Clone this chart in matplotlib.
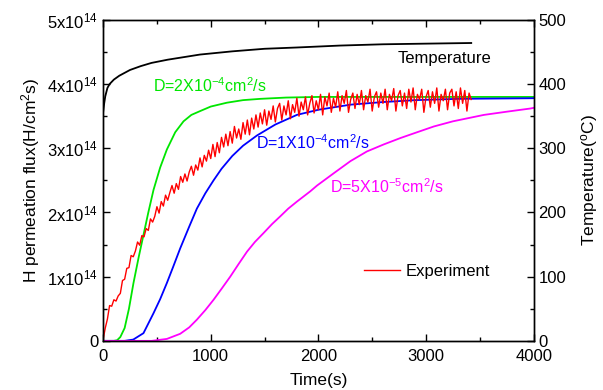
import matplotlib
matplotlib.use("Agg")
import matplotlib.pyplot as plt
from matplotlib.ticker import MultipleLocator, FuncFormatter

plt.rcParams['font.family'] = ['Liberation Sans', 'DejaVu Sans']
plt.rcParams['mathtext.fontset'] = 'custom'
plt.rcParams['mathtext.rm'] = 'Liberation Sans'
plt.rcParams['mathtext.it'] = 'Liberation Sans'
plt.rcParams['mathtext.default'] = 'regular'

# ---- data (flux in units of 1e14 H/cm^2 s, time in s, temperature in C) ----
temp_t = [0, 10, 20, 40, 60, 100, 150, 250, 350, 450, 600, 750, 900, 1200, 1500, 1800, 2200, 2600, 3000, 3420]
temp_v = [356, 370, 381, 394, 400, 407, 413, 422, 428, 433, 438, 442, 446, 451, 455, 457, 460, 462, 463, 464]

green_t = [0, 100, 130, 160, 200, 240, 282, 330, 375, 420, 468, 530, 592, 670, 747, 820,
           902, 1000, 1150, 1300, 1460, 1700, 2000, 3000, 4000]
green_v = [0, 0, 0.01, 0.06, 0.2, 0.5, 0.9, 1.3, 1.65, 2.0, 2.35, 2.7, 2.98, 3.25, 3.42, 3.52,
           3.58, 3.65, 3.71, 3.75, 3.77, 3.79, 3.80, 3.80, 3.80]

blue_t = [0, 200, 280, 375, 468, 530, 592, 650, 716, 800, 871, 950, 1026, 1100, 1200, 1300,
          1430, 1600, 1800, 2000, 2300, 2600, 2900, 3300, 4000]
blue_v = [0, 0, 0.02, 0.12, 0.43, 0.65, 0.90, 1.15, 1.44, 1.78, 2.06, 2.30, 2.50, 2.68, 2.88, 3.04,
          3.20, 3.37, 3.52, 3.60, 3.68, 3.72, 3.75, 3.77, 3.78]

mag_t = [0, 450, 592, 716, 800, 871, 950, 1026, 1100, 1181, 1260, 1337, 1410, 1491, 1570, 1646,
         1720, 1801, 1925, 1988, 2150, 2298, 2450, 2607, 2763, 2900, 3073, 3250, 3538, 3750, 3972, 4000]
mag_v = [0, 0, 0.03, 0.11, 0.21, 0.33, 0.48, 0.64, 0.81, 1.00, 1.20, 1.39, 1.54, 1.68, 1.82, 1.94,
         2.06, 2.17, 2.33, 2.42, 2.62, 2.80, 2.95, 3.06, 3.16, 3.24, 3.34, 3.42, 3.52, 3.57, 3.62, 3.63]

exp_t = list(range(0, 3440, 20))
exp_v = [0.02, 0.20, 0.34, 0.55, 0.54, 0.64, 0.62, 0.70, 0.74, 0.94, 0.96, 1.13, 1.14, 1.33, 1.31, 1.40,
         1.54, 1.49, 1.64, 1.62, 1.75, 1.72, 1.90, 1.85, 1.94, 2.09, 1.99, 2.17, 2.10, 2.27, 2.19, 2.31,
         2.42, 2.30, 2.45, 2.36, 2.56, 2.47, 2.60, 2.49, 2.63, 2.72, 2.58, 2.74, 2.66, 2.85, 2.71, 2.89,
         2.80, 2.97, 2.84, 3.06, 2.87, 3.09, 2.93, 3.17, 3.02, 3.22, 3.04, 3.26, 3.08, 3.34, 3.16, 3.30,
         3.14, 3.40, 3.22, 3.44, 3.21, 3.47, 3.30, 3.52, 3.33, 3.55, 3.38, 3.60, 3.36, 3.58, 3.45, 3.66,
         3.41, 3.62, 3.70, 3.44, 3.66, 3.52, 3.74, 3.46, 3.68, 3.56, 3.78, 3.50, 3.72, 3.60, 3.80, 3.52,
         3.70, 3.82, 3.55, 3.74, 3.60, 3.84, 3.52, 3.80, 3.66, 3.86, 3.56, 3.78, 3.64, 3.88, 3.58, 3.82,
         3.70, 3.90, 3.56, 3.76, 3.86, 3.62, 3.84, 3.68, 3.90, 3.60, 3.82, 3.72, 3.92, 3.58, 3.80, 3.88,
         3.64, 3.86, 3.70, 3.92, 3.60, 3.84, 3.74, 3.93, 3.58, 3.82, 3.90, 3.66, 3.86, 3.62, 3.92, 3.72,
         3.94, 3.60, 3.84, 3.76, 3.92, 3.56, 3.80, 3.90, 3.64, 3.88, 3.70, 3.94, 3.58, 3.84, 3.74, 3.92,
         3.60, 3.86, 3.92, 3.66, 3.88, 3.62, 3.94, 3.70, 3.90, 3.58, 3.86, 3.76]

labels_d = [r"D=2X10$^{-4}$cm$^{2}$/s", r"D=1X10$^{-4}$cm$^{2}$/s", r"D=5X10$^{-5}$cm$^{2}$/s"]

fig = plt.figure(figsize=(6.03, 3.90), dpi=100)
ax = fig.add_axes([0.171, 0.126, 0.714, 0.823])
ax2 = ax.twinx()

c_green = '#00e600'
c_blue = '#0000ff'
c_mag = '#ff00ff'
c_red = '#ff0000'

ax.plot(green_t, green_v, color=c_green, lw=1.3)
ax.plot(blue_t, blue_v, color=c_blue, lw=1.3)
ax.plot(mag_t, mag_v, color=c_mag, lw=1.3)
l_exp, = ax.plot(exp_t[:len(exp_v)], exp_v, color=c_red, lw=1.0)
ax2.plot(temp_t, temp_v, color='black', lw=1.3)

ax.set_xlim(0, 4000)
ax.set_ylim(0, 5)
ax2.set_ylim(0, 500)

ax.xaxis.set_major_locator(MultipleLocator(1000))
ax.xaxis.set_minor_locator(MultipleLocator(500))
ax.yaxis.set_major_locator(MultipleLocator(1))
ax.yaxis.set_minor_locator(MultipleLocator(0.5))
ax2.yaxis.set_major_locator(MultipleLocator(100))
ax2.yaxis.set_minor_locator(MultipleLocator(50))

def yfmt(v, pos):
    if abs(v) < 1e-9:
        return "0"
    return r"%dx10$^{14}$" % int(round(v))
ax.yaxis.set_major_formatter(FuncFormatter(yfmt))

ax.tick_params(axis='both', which='both', direction='in', labelsize=12)
ax.tick_params(axis='x', which='both', top=True, pad=6)
ax.tick_params(which='major', length=5, width=1)
ax.tick_params(which='minor', length=3, width=1)
ax2.tick_params(axis='y', which='both', direction='in', labelsize=12)
ax2.tick_params(which='major', length=5, width=1)
ax2.tick_params(which='minor', length=3, width=1)

for a in (ax, ax2):
    for s in a.spines.values():
        s.set_linewidth(1.0)

ax.set_xlabel("Time(s)", fontsize=12.5, labelpad=6)
ax.set_ylabel(r"H permeation flux(H/cm$^{2}$s)", fontsize=12.5, labelpad=4)
ax2.set_ylabel(r"Temperature($^{o}$C)", fontsize=12.5, labelpad=9)

ax.text(465, 3.97, labels_d[0], color=c_green, fontsize=11.5, va='center', ha='left')
ax.text(1423, 3.08, labels_d[1], color=c_blue, fontsize=11.5, va='center', ha='left')
ax.text(2111, 2.40, labels_d[2], color=c_mag, fontsize=11.5, va='center', ha='left')
ax.text(2732, 4.40, "Temperature", color='black', fontsize=12, va='center', ha='left')

ax.legend([l_exp], ["Experiment"], loc='center left', bbox_to_anchor=(0.605, 0.216),
          frameon=False, fontsize=12, handlelength=2.2, handletextpad=0.3,
          borderpad=0, borderaxespad=0)

fig.savefig("out.png", dpi=100)
